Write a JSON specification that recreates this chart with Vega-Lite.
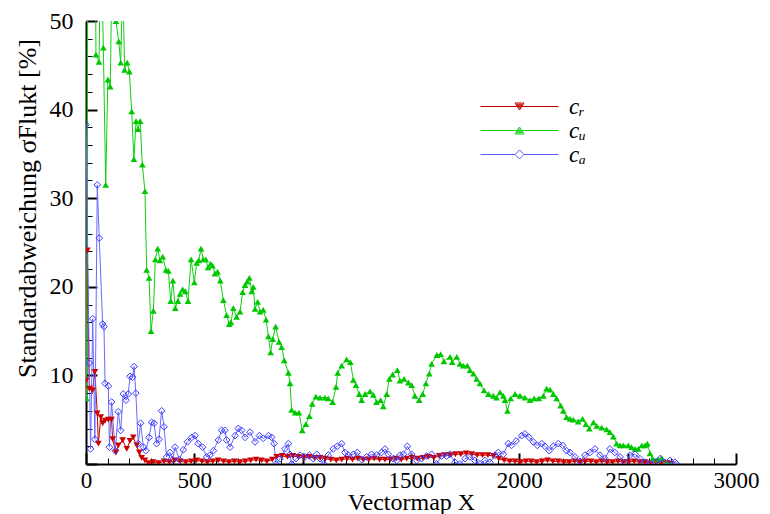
{
"$schema":"https://vega.github.io/schema/vega-lite/v6.json",
"width":650,"height":443,
"autosize":{"type":"none"},
"padding":{"left":86,"top":21,"right":34,"bottom":50},
"background":"white",
"config":{"view":{"stroke":null},"font":"Liberation Serif, Times New Roman, serif"},
"data":{"values":[
{"s":"cr","x":0,"y":9.4},{"s":"cr","x":6,"y":24.1},{"s":"cr","x":15,"y":8.5},{"s":"cr","x":30,"y":8.3},{"s":"cr","x":41,"y":10.4},{"s":"cr","x":52,"y":5.7},{"s":"cr","x":57,"y":2.3},{"s":"cr","x":68,"y":5.3},{"s":"cr","x":77,"y":4.6},{"s":"cr","x":88,"y":4.9},{"s":"cr","x":103,"y":5.0},{"s":"cr","x":118,"y":5.0},{"s":"cr","x":123,"y":2.8},{"s":"cr","x":138,"y":1.3},{"s":"cr","x":149,"y":2.1},{"s":"cr","x":169,"y":2.7},{"s":"cr","x":188,"y":1.7},{"s":"cr","x":203,"y":2.6},{"s":"cr","x":218,"y":3.0},{"s":"cr","x":234,"y":2.1},{"s":"cr","x":246,"y":1.3},{"s":"cr","x":257,"y":0.7},{"s":"cr","x":272,"y":0.4},{"s":"cr","x":288,"y":0.1},{"s":"cr","x":310,"y":0.2},{"s":"cr","x":335,"y":0.1},{"s":"cr","x":360,"y":0.3},{"s":"cr","x":385,"y":0.2},{"s":"cr","x":410,"y":0.4},{"s":"cr","x":435,"y":0.3},{"s":"cr","x":460,"y":0.2},{"s":"cr","x":485,"y":0.3},{"s":"cr","x":510,"y":0.4},{"s":"cr","x":535,"y":0.3},{"s":"cr","x":560,"y":0.2},{"s":"cr","x":585,"y":0.3},{"s":"cr","x":610,"y":0.4},{"s":"cr","x":635,"y":0.3},{"s":"cr","x":660,"y":0.2},{"s":"cr","x":685,"y":0.3},{"s":"cr","x":710,"y":0.2},{"s":"cr","x":735,"y":0.3},{"s":"cr","x":760,"y":0.4},{"s":"cr","x":785,"y":0.5},{"s":"cr","x":810,"y":0.4},{"s":"cr","x":835,"y":0.3},{"s":"cr","x":860,"y":0.5},{"s":"cr","x":880,"y":0.8},{"s":"cr","x":905,"y":0.9},{"s":"cr","x":930,"y":0.8},{"s":"cr","x":955,"y":0.9},{"s":"cr","x":980,"y":0.8},{"s":"cr","x":1005,"y":0.7},{"s":"cr","x":1030,"y":0.8},{"s":"cr","x":1055,"y":0.7},{"s":"cr","x":1080,"y":0.7},{"s":"cr","x":1105,"y":0.6},{"s":"cr","x":1130,"y":0.5},{"s":"cr","x":1155,"y":0.4},{"s":"cr","x":1180,"y":0.5},{"s":"cr","x":1205,"y":0.6},{"s":"cr","x":1230,"y":0.5},{"s":"cr","x":1255,"y":0.6},{"s":"cr","x":1280,"y":0.5},{"s":"cr","x":1305,"y":0.5},{"s":"cr","x":1330,"y":0.6},{"s":"cr","x":1355,"y":0.5},{"s":"cr","x":1380,"y":0.5},{"s":"cr","x":1405,"y":0.5},{"s":"cr","x":1430,"y":0.6},{"s":"cr","x":1455,"y":0.5},{"s":"cr","x":1480,"y":0.6},{"s":"cr","x":1505,"y":0.7},{"s":"cr","x":1530,"y":0.6},{"s":"cr","x":1555,"y":0.7},{"s":"cr","x":1580,"y":0.8},{"s":"cr","x":1605,"y":0.7},{"s":"cr","x":1630,"y":0.9},{"s":"cr","x":1655,"y":1.0},{"s":"cr","x":1680,"y":1.0},{"s":"cr","x":1705,"y":1.1},{"s":"cr","x":1730,"y":1.1},{"s":"cr","x":1755,"y":1.2},{"s":"cr","x":1780,"y":1.1},{"s":"cr","x":1805,"y":1.0},{"s":"cr","x":1830,"y":1.0},{"s":"cr","x":1855,"y":1.0},{"s":"cr","x":1880,"y":0.9},{"s":"cr","x":1905,"y":0.6},{"s":"cr","x":1930,"y":0.4},{"s":"cr","x":1955,"y":0.3},{"s":"cr","x":1980,"y":0.3},{"s":"cr","x":2005,"y":0.2},{"s":"cr","x":2030,"y":0.3},{"s":"cr","x":2055,"y":0.3},{"s":"cr","x":2080,"y":0.2},{"s":"cr","x":2105,"y":0.3},{"s":"cr","x":2130,"y":0.4},{"s":"cr","x":2155,"y":0.3},{"s":"cr","x":2180,"y":0.3},{"s":"cr","x":2205,"y":0.2},{"s":"cr","x":2230,"y":0.2},{"s":"cr","x":2255,"y":0.3},{"s":"cr","x":2280,"y":0.2},{"s":"cr","x":2305,"y":0.3},{"s":"cr","x":2330,"y":0.3},{"s":"cr","x":2355,"y":0.2},{"s":"cr","x":2380,"y":0.3},{"s":"cr","x":2405,"y":0.2},{"s":"cr","x":2430,"y":0.2},{"s":"cr","x":2455,"y":0.3},{"s":"cr","x":2480,"y":0.2},{"s":"cr","x":2505,"y":0.2},{"s":"cr","x":2530,"y":0.3},{"s":"cr","x":2555,"y":0.2},{"s":"cr","x":2580,"y":0.2},{"s":"cr","x":2605,"y":0.1},{"s":"cr","x":2630,"y":0.2},{"s":"cr","x":2655,"y":0.1},{"s":"cr","x":2680,"y":0.1},{"s":"cr","x":2700,"y":0.0},
{"s":"cu","x":2,"y":7.4},{"s":"cu","x":10,"y":80},{"s":"cu","x":20,"y":60},{"s":"cu","x":30,"y":75},{"s":"cu","x":40,"y":70},{"s":"cu","x":46,"y":46.2},{"s":"cu","x":60,"y":45.4},{"s":"cu","x":69,"y":60},{"s":"cu","x":80,"y":47.0},{"s":"cu","x":91,"y":31.5},{"s":"cu","x":101,"y":43.4},{"s":"cu","x":112,"y":42.6},{"s":"cu","x":121,"y":58},{"s":"cu","x":138,"y":50.0},{"s":"cu","x":151,"y":47.7},{"s":"cu","x":160,"y":45.3},{"s":"cu","x":170,"y":55},{"s":"cu","x":178,"y":44.5},{"s":"cu","x":190,"y":45.3},{"s":"cu","x":200,"y":44.3},{"s":"cu","x":211,"y":39.8},{"s":"cu","x":221,"y":34.4},{"s":"cu","x":231,"y":38.7},{"s":"cu","x":240,"y":37.8},{"s":"cu","x":250,"y":38.7},{"s":"cu","x":260,"y":33.8},{"s":"cu","x":272,"y":30.8},{"s":"cu","x":280,"y":21.9},{"s":"cu","x":291,"y":21.0},{"s":"cu","x":300,"y":15.0},{"s":"cu","x":311,"y":17.3},{"s":"cu","x":320,"y":23.1},{"s":"cu","x":331,"y":24.3},{"s":"cu","x":341,"y":23.0},{"s":"cu","x":354,"y":23.4},{"s":"cu","x":369,"y":21.9},{"s":"cu","x":380,"y":21.8},{"s":"cu","x":391,"y":18.4},{"s":"cu","x":401,"y":20.7},{"s":"cu","x":412,"y":17.6},{"s":"cu","x":424,"y":18.4},{"s":"cu","x":434,"y":19.2},{"s":"cu","x":446,"y":19.7},{"s":"cu","x":458,"y":19.5},{"s":"cu","x":471,"y":18.4},{"s":"cu","x":485,"y":23.1},{"s":"cu","x":500,"y":20.5},{"s":"cu","x":511,"y":22.7},{"s":"cu","x":520,"y":23.0},{"s":"cu","x":531,"y":24.3},{"s":"cu","x":541,"y":23.1},{"s":"cu","x":553,"y":23.1},{"s":"cu","x":563,"y":22.2},{"s":"cu","x":575,"y":22.6},{"s":"cu","x":584,"y":22.4},{"s":"cu","x":595,"y":21.5},{"s":"cu","x":607,"y":21.7},{"s":"cu","x":620,"y":20.7},{"s":"cu","x":634,"y":18.5},{"s":"cu","x":649,"y":16.8},{"s":"cu","x":661,"y":15.8},{"s":"cu","x":669,"y":16.0},{"s":"cu","x":680,"y":17.6},{"s":"cu","x":695,"y":16.6},{"s":"cu","x":711,"y":17.2},{"s":"cu","x":723,"y":19.4},{"s":"cu","x":734,"y":20.2},{"s":"cu","x":744,"y":20.6},{"s":"cu","x":754,"y":21.0},{"s":"cu","x":765,"y":19.5},{"s":"cu","x":772,"y":20.0},{"s":"cu","x":780,"y":17.5},{"s":"cu","x":792,"y":18.3},{"s":"cu","x":803,"y":17.2},{"s":"cu","x":818,"y":17.4},{"s":"cu","x":831,"y":16.3},{"s":"cu","x":842,"y":14.4},{"s":"cu","x":852,"y":12.6},{"s":"cu","x":862,"y":14.1},{"s":"cu","x":875,"y":15.5},{"s":"cu","x":891,"y":13.8},{"s":"cu","x":903,"y":13.2},{"s":"cu","x":915,"y":11.7},{"s":"cu","x":934,"y":10.3},{"s":"cu","x":942,"y":9.1},{"s":"cu","x":949,"y":6.1},{"s":"cu","x":965,"y":5.8},{"s":"cu","x":983,"y":5.8},{"s":"cu","x":998,"y":3.8},{"s":"cu","x":1015,"y":4.5},{"s":"cu","x":1031,"y":5.4},{"s":"cu","x":1044,"y":6.8},{"s":"cu","x":1061,"y":7.6},{"s":"cu","x":1080,"y":7.5},{"s":"cu","x":1103,"y":7.5},{"s":"cu","x":1118,"y":7.4},{"s":"cu","x":1138,"y":7.0},{"s":"cu","x":1154,"y":8.7},{"s":"cu","x":1162,"y":10.3},{"s":"cu","x":1180,"y":11.1},{"s":"cu","x":1203,"y":11.8},{"s":"cu","x":1220,"y":11.5},{"s":"cu","x":1234,"y":9.5},{"s":"cu","x":1246,"y":8.9},{"s":"cu","x":1261,"y":7.9},{"s":"cu","x":1272,"y":7.2},{"s":"cu","x":1288,"y":7.9},{"s":"cu","x":1311,"y":8.2},{"s":"cu","x":1326,"y":7.8},{"s":"cu","x":1341,"y":7.0},{"s":"cu","x":1360,"y":7.2},{"s":"cu","x":1372,"y":6.5},{"s":"cu","x":1388,"y":7.9},{"s":"cu","x":1400,"y":9.6},{"s":"cu","x":1415,"y":10.1},{"s":"cu","x":1437,"y":10.6},{"s":"cu","x":1449,"y":9.4},{"s":"cu","x":1468,"y":9.6},{"s":"cu","x":1488,"y":9.2},{"s":"cu","x":1503,"y":8.9},{"s":"cu","x":1518,"y":7.7},{"s":"cu","x":1538,"y":7.2},{"s":"cu","x":1554,"y":7.9},{"s":"cu","x":1569,"y":9.1},{"s":"cu","x":1584,"y":10.2},{"s":"cu","x":1595,"y":11.3},{"s":"cu","x":1619,"y":12.3},{"s":"cu","x":1637,"y":12.4},{"s":"cu","x":1652,"y":11.6},{"s":"cu","x":1680,"y":12.1},{"s":"cu","x":1690,"y":11.5},{"s":"cu","x":1711,"y":12.1},{"s":"cu","x":1726,"y":11.3},{"s":"cu","x":1741,"y":11.1},{"s":"cu","x":1760,"y":11.1},{"s":"cu","x":1772,"y":10.6},{"s":"cu","x":1788,"y":10.2},{"s":"cu","x":1803,"y":9.6},{"s":"cu","x":1818,"y":9.1},{"s":"cu","x":1837,"y":8.3},{"s":"cu","x":1857,"y":7.9},{"s":"cu","x":1880,"y":7.7},{"s":"cu","x":1895,"y":7.5},{"s":"cu","x":1911,"y":8.1},{"s":"cu","x":1926,"y":7.7},{"s":"cu","x":1934,"y":7.2},{"s":"cu","x":1945,"y":6.0},{"s":"cu","x":1960,"y":7.4},{"s":"cu","x":1980,"y":7.9},{"s":"cu","x":2003,"y":7.7},{"s":"cu","x":2026,"y":7.5},{"s":"cu","x":2049,"y":7.2},{"s":"cu","x":2068,"y":7.4},{"s":"cu","x":2090,"y":7.4},{"s":"cu","x":2111,"y":7.7},{"s":"cu","x":2126,"y":8.5},{"s":"cu","x":2142,"y":8.4},{"s":"cu","x":2157,"y":7.9},{"s":"cu","x":2172,"y":7.4},{"s":"cu","x":2191,"y":6.6},{"s":"cu","x":2203,"y":6.0},{"s":"cu","x":2218,"y":5.3},{"s":"cu","x":2234,"y":5.1},{"s":"cu","x":2249,"y":5.0},{"s":"cu","x":2272,"y":4.8},{"s":"cu","x":2292,"y":5.1},{"s":"cu","x":2307,"y":4.5},{"s":"cu","x":2323,"y":4.0},{"s":"cu","x":2342,"y":4.7},{"s":"cu","x":2357,"y":4.3},{"s":"cu","x":2380,"y":4.1},{"s":"cu","x":2403,"y":3.9},{"s":"cu","x":2418,"y":3.6},{"s":"cu","x":2434,"y":3.1},{"s":"cu","x":2449,"y":2.3},{"s":"cu","x":2465,"y":2.1},{"s":"cu","x":2480,"y":2.1},{"s":"cu","x":2503,"y":2.1},{"s":"cu","x":2518,"y":1.9},{"s":"cu","x":2534,"y":1.7},{"s":"cu","x":2549,"y":1.7},{"s":"cu","x":2565,"y":2.1},{"s":"cu","x":2580,"y":2.1},{"s":"cu","x":2591,"y":2.3},{"s":"cu","x":2603,"y":1.2},{"s":"cu","x":2615,"y":0.6},{"s":"cu","x":2641,"y":0.5},{"s":"cu","x":2657,"y":0.7},{"s":"cu","x":2680,"y":0.1},{"s":"cu","x":2700,"y":0.05},
{"s":"ca","x":0,"y":38.3},{"s":"ca","x":15,"y":11.4},{"s":"ca","x":21,"y":1.7},{"s":"ca","x":31,"y":16.4},{"s":"ca","x":41,"y":2.8},{"s":"ca","x":52,"y":31.5},{"s":"ca","x":61,"y":25.5},{"s":"ca","x":77,"y":15.8},{"s":"ca","x":83,"y":15.5},{"s":"ca","x":88,"y":9.1},{"s":"ca","x":103,"y":8.8},{"s":"ca","x":108,"y":1.9},{"s":"ca","x":118,"y":7.0},{"s":"ca","x":135,"y":1.5},{"s":"ca","x":149,"y":5.9},{"s":"ca","x":160,"y":3.8},{"s":"ca","x":172,"y":7.9},{"s":"ca","x":185,"y":7.2},{"s":"ca","x":195,"y":7.9},{"s":"ca","x":203,"y":9.9},{"s":"ca","x":215,"y":9.8},{"s":"ca","x":222,"y":11.0},{"s":"ca","x":230,"y":8.0},{"s":"ca","x":241,"y":2.3},{"s":"ca","x":252,"y":4.6},{"s":"ca","x":265,"y":1.9},{"s":"ca","x":276,"y":1.5},{"s":"ca","x":291,"y":3.0},{"s":"ca","x":303,"y":4.7},{"s":"ca","x":314,"y":4.6},{"s":"ca","x":326,"y":2.3},{"s":"ca","x":337,"y":2.8},{"s":"ca","x":349,"y":6.0},{"s":"ca","x":360,"y":4.2},{"s":"ca","x":372,"y":0.8},{"s":"ca","x":388,"y":1.3},{"s":"ca","x":400,"y":0.5},{"s":"ca","x":411,"y":1.9},{"s":"ca","x":431,"y":0.5},{"s":"ca","x":449,"y":1.6},{"s":"ca","x":468,"y":2.5},{"s":"ca","x":488,"y":3.0},{"s":"ca","x":503,"y":3.2},{"s":"ca","x":518,"y":2.3},{"s":"ca","x":538,"y":1.9},{"s":"ca","x":557,"y":0.8},{"s":"ca","x":572,"y":1.0},{"s":"ca","x":588,"y":1.5},{"s":"ca","x":611,"y":2.7},{"s":"ca","x":626,"y":3.8},{"s":"ca","x":641,"y":3.8},{"s":"ca","x":649,"y":2.7},{"s":"ca","x":665,"y":1.9},{"s":"ca","x":688,"y":3.2},{"s":"ca","x":703,"y":4.0},{"s":"ca","x":718,"y":3.8},{"s":"ca","x":734,"y":3.0},{"s":"ca","x":757,"y":3.6},{"s":"ca","x":780,"y":2.5},{"s":"ca","x":800,"y":3.2},{"s":"ca","x":818,"y":2.9},{"s":"ca","x":842,"y":3.2},{"s":"ca","x":857,"y":3.0},{"s":"ca","x":868,"y":2.3},{"s":"ca","x":877,"y":0.0},{"s":"ca","x":895,"y":0.6},{"s":"ca","x":918,"y":1.7},{"s":"ca","x":934,"y":2.3},{"s":"ca","x":941,"y":1.1},{"s":"ca","x":949,"y":0.0},{"s":"ca","x":969,"y":0.6},{"s":"ca","x":988,"y":1.0},{"s":"ca","x":1011,"y":0.8},{"s":"ca","x":1031,"y":1.0},{"s":"ca","x":1049,"y":0.6},{"s":"ca","x":1065,"y":1.1},{"s":"ca","x":1080,"y":0.6},{"s":"ca","x":1098,"y":0.0},{"s":"ca","x":1118,"y":1.0},{"s":"ca","x":1141,"y":1.7},{"s":"ca","x":1160,"y":2.0},{"s":"ca","x":1180,"y":2.3},{"s":"ca","x":1195,"y":1.3},{"s":"ca","x":1211,"y":1.0},{"s":"ca","x":1234,"y":1.1},{"s":"ca","x":1252,"y":1.3},{"s":"ca","x":1272,"y":0.5},{"s":"ca","x":1295,"y":0.8},{"s":"ca","x":1318,"y":1.1},{"s":"ca","x":1341,"y":1.0},{"s":"ca","x":1364,"y":1.3},{"s":"ca","x":1380,"y":1.7},{"s":"ca","x":1395,"y":1.1},{"s":"ca","x":1418,"y":0.6},{"s":"ca","x":1434,"y":0.4},{"s":"ca","x":1449,"y":1.0},{"s":"ca","x":1465,"y":1.1},{"s":"ca","x":1483,"y":2.0},{"s":"ca","x":1503,"y":1.1},{"s":"ca","x":1526,"y":0.4},{"s":"ca","x":1549,"y":0.6},{"s":"ca","x":1572,"y":0.9},{"s":"ca","x":1595,"y":1.1},{"s":"ca","x":1618,"y":0.0},{"s":"ca","x":1641,"y":0.9},{"s":"ca","x":1664,"y":0.9},{"s":"ca","x":1680,"y":1.1},{"s":"ca","x":1703,"y":0.2},{"s":"ca","x":1726,"y":0.0},{"s":"ca","x":1749,"y":0.6},{"s":"ca","x":1772,"y":0.8},{"s":"ca","x":1795,"y":0.4},{"s":"ca","x":1818,"y":0.0},{"s":"ca","x":1841,"y":0.4},{"s":"ca","x":1864,"y":0.2},{"s":"ca","x":1888,"y":1.0},{"s":"ca","x":1903,"y":1.3},{"s":"ca","x":1926,"y":1.1},{"s":"ca","x":1949,"y":2.3},{"s":"ca","x":1964,"y":2.1},{"s":"ca","x":1985,"y":2.6},{"s":"ca","x":2011,"y":3.2},{"s":"ca","x":2026,"y":3.4},{"s":"ca","x":2045,"y":3.0},{"s":"ca","x":2064,"y":2.5},{"s":"ca","x":2083,"y":2.1},{"s":"ca","x":2103,"y":2.3},{"s":"ca","x":2118,"y":2.0},{"s":"ca","x":2138,"y":1.5},{"s":"ca","x":2157,"y":2.0},{"s":"ca","x":2180,"y":2.3},{"s":"ca","x":2200,"y":2.1},{"s":"ca","x":2218,"y":1.5},{"s":"ca","x":2234,"y":1.3},{"s":"ca","x":2257,"y":0.8},{"s":"ca","x":2280,"y":0.3},{"s":"ca","x":2303,"y":1.0},{"s":"ca","x":2326,"y":1.3},{"s":"ca","x":2349,"y":1.7},{"s":"ca","x":2372,"y":1.0},{"s":"ca","x":2395,"y":0.6},{"s":"ca","x":2418,"y":1.7},{"s":"ca","x":2441,"y":1.3},{"s":"ca","x":2465,"y":0.8},{"s":"ca","x":2488,"y":0.2},{"s":"ca","x":2511,"y":1.0},{"s":"ca","x":2534,"y":1.1},{"s":"ca","x":2557,"y":0.6},{"s":"ca","x":2580,"y":0.2},{"s":"ca","x":2603,"y":0.0},{"s":"ca","x":2626,"y":0.2},{"s":"ca","x":2649,"y":0.6},{"s":"ca","x":2672,"y":0.2},{"s":"ca","x":2695,"y":0.4},{"s":"ca","x":2718,"y":0.2},{"s":"ca","x":2726,"y":0.0}
]},
"encoding":{
"x":{"field":"x","type":"quantitative","scale":{"domain":[0,3000],"nice":false,"zero":false},
"axis":{"title":"Vectormap X","values":[0,100,200,300,400,500,600,700,800,900,1000,1100,1200,1300,1400,1500,1600,1700,1800,1900,2000,2100,2200,2300,2400,2500,2600,2700,2800,2900,3000],"format":"d","labelExpr":"datum.value % 500 === 0 ? datum.label : ''","labelOverlap":false,"labelFlush":false,"grid":false,"domainColor":"black","domainWidth":2,"tickColor":"black","tickSize":{"condition":{"test":"datum.value % 500 === 0","value":-11},"value":-6},"tickWidth":{"condition":{"test":"datum.value % 500 === 0","value":2},"value":1},"labelPadding":16,"labelFont":"Liberation Serif, Times New Roman, serif","labelFontSize":23,"labelColor":"black","titleFont":"Liberation Serif, Times New Roman, serif","titleFontSize":24,"titleFontWeight":"normal","titleColor":"black","titleBaseline":"alphabetic","titleY":45}},
"y":{"field":"y","type":"quantitative","scale":{"domain":[0,50],"nice":false,"zero":false},
"axis":{"title":"Standardabweichung σFlukt [%]","values":[0,2,4,6,8,10,12,14,16,18,20,22,24,26,28,30,32,34,36,38,40,42,44,46,48,50],"labelExpr":"datum.value % 10 === 0 && datum.value > 0 ? datum.label : ''","labelOverlap":false,"labelFlush":false,"grid":false,"domainColor":"black","domainWidth":2,"tickColor":"black","tickSize":{"condition":{"test":"datum.value % 10 === 0","value":-11},"value":-6},"tickWidth":{"condition":{"test":"datum.value % 10 === 0","value":2},"value":1},"labelPadding":24,"labelFont":"Liberation Serif, Times New Roman, serif","labelFontSize":24,"labelColor":"black","titleFont":"Liberation Serif, Times New Roman, serif","titleFontSize":26,"titleFontWeight":"normal","titleColor":"black","titleX":-46,"titleY":187}}
},
"layer":[
{"transform":[{"filter":"datum.s === 'cr'"}],"mark":{"type":"line","clip":true,"strokeWidth":1,"color":"#c00000"},"encoding":{}},
{"transform":[{"filter":"datum.s === 'cu'"}],"mark":{"type":"line","clip":true,"strokeWidth":1,"color":"#10d010"},"encoding":{}},
{"transform":[{"filter":"datum.s === 'ca'"}],"mark":{"type":"line","clip":true,"strokeWidth":1,"color":"#6a6aff"},"encoding":{}},
{"transform":[{"filter":"datum.s === 'cr'"}],"mark":{"type":"point","clip":true,"size":45,"strokeWidth":1,"shape":"triangle-down","filled":true,"color":"#cc0000","opacity":1}},
{"transform":[{"filter":"datum.s === 'cu'"}],"mark":{"type":"point","clip":true,"size":45,"strokeWidth":1,"shape":"triangle-up","filled":true,"color":"#00c800","opacity":1}},
{"transform":[{"filter":"datum.s === 'ca'"}],"mark":{"type":"point","clip":true,"size":45,"strokeWidth":1,"shape":"diamond","filled":false,"color":"#3a3aff","opacity":1}},
{"mark":{"type":"point","clip":true,"size":100,"strokeWidth":1,"filled":false,"opacity":0},
 "encoding":{
  "shape":{"field":"s","type":"nominal","scale":{"domain":["cr","cu","ca"],"range":["M-7.8,0H7.8M-0.9,-0.7L0.9,-0.7L0,0.7ZM-0.55,-0.45L0.55,-0.45L0,0.35ZM-0.2,-0.25L0.2,-0.25L0,0.05Z","M-7.8,0H7.8M-0.9,0.7L0.9,0.7L0,-0.7ZM-0.55,0.45L0.55,0.45L0,-0.35ZM-0.2,0.25L0.2,0.25L0,-0.05Z","M-7.8,0H-0.9M0.9,0H7.8M-0.9,0L0,-0.9L0.9,0L0,0.9Z"]},
   "legend":{"title":null,"orient":"none","legendX":422,"legendY":74,"padding":0,"rowPadding":-7,"labelOffset":38,"labelFont":"Liberation Serif, Times New Roman, serif","labelFontStyle":"italic","labelFontSize":23,"labelColor":"black","symbolSize":100,"symbolOpacity":1,"symbolStrokeWidth":1,"labelExpr":"datum.label === 'cr' ? 'cᵣ' : datum.label === 'cu' ? 'cᵤ' : 'cₐ'"}},
  "stroke":{"field":"s","type":"nominal","scale":{"domain":["cr","cu","ca"],"range":["#c00000","#10d010","#5a5aff"]},
   "legend":{"title":null,"orient":"none","legendX":422,"legendY":74,"padding":0,"rowPadding":-7,"labelOffset":38,"labelFont":"Liberation Serif, Times New Roman, serif","labelFontStyle":"italic","labelFontSize":23,"labelColor":"black","symbolSize":100,"symbolOpacity":1,"symbolStrokeWidth":1,"labelExpr":"datum.label === 'cr' ? 'cᵣ' : datum.label === 'cu' ? 'cᵤ' : 'cₐ'"}}}}
]
}
